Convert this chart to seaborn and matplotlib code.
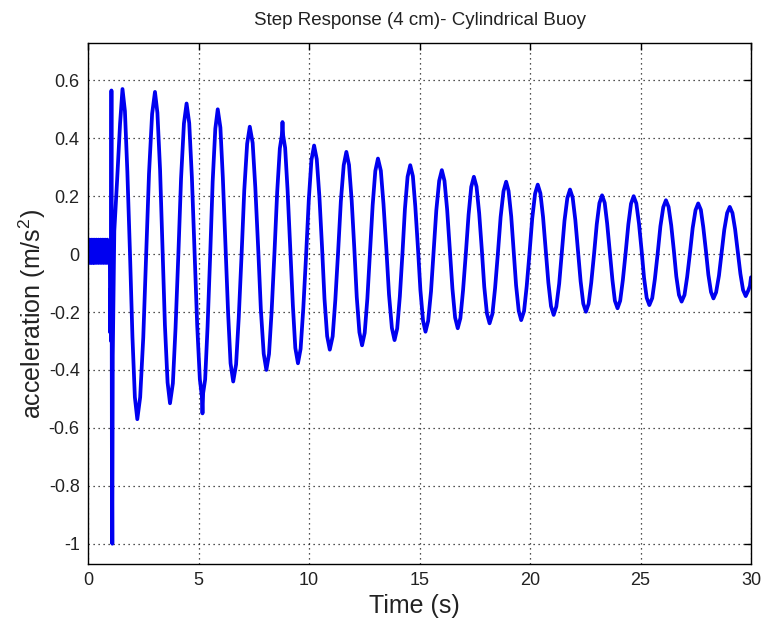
import numpy as np
import pandas as pd
import matplotlib
matplotlib.use("Agg")
import matplotlib.pyplot as plt
import seaborn as sns

# ---- data ----
# pre-trigger sensor noise band (0 - 1 s)
pre_t = [0.0000, 0.0125, 0.0250, 0.0375, 0.0500, 0.0625, 0.0750, 0.0875, 0.1000, 0.1125,
         0.1250, 0.1375, 0.1500, 0.1625, 0.1750, 0.1875, 0.2000, 0.2125, 0.2250, 0.2375,
         0.2500, 0.2625, 0.2750, 0.2875, 0.3000, 0.3125, 0.3250, 0.3375, 0.3500, 0.3625,
         0.3750, 0.3875, 0.4000, 0.4125, 0.4250, 0.4375, 0.4500, 0.4625, 0.4750, 0.4875,
         0.5000, 0.5125, 0.5250, 0.5375, 0.5500, 0.5625, 0.5750, 0.5875, 0.6000, 0.6125,
         0.6250, 0.6375, 0.6500, 0.6625, 0.6750, 0.6875, 0.7000, 0.7125, 0.7250, 0.7375,
         0.7500, 0.7625, 0.7750, 0.7875, 0.8000, 0.8125, 0.8250, 0.8375, 0.8500, 0.8625,
         0.8750, 0.8875, 0.9000, 0.9125, 0.9250, 0.9375, 0.9500, 0.9625, 0.9750, 0.9850]
pre_v = [0.03, -0.02, 0.04, -0.03, 0.02, -0.01, 0.05, -0.02, 0.03, -0.03,
         0.04, -0.01, 0.02, -0.03, 0.05, -0.02, 0.03, -0.01, 0.04, -0.03,
         0.02, -0.02, 0.05, -0.03, 0.03, -0.01, 0.04, -0.02, 0.02, -0.03,
         0.05, -0.01, 0.03, -0.02, 0.04, -0.03, 0.02, -0.01, 0.05, -0.02,
         0.03, -0.03, 0.04, -0.01, 0.02, -0.02, 0.05, -0.03, 0.03, -0.01,
         0.04, -0.02, 0.02, -0.03, 0.05, -0.01, 0.03, -0.02, 0.04, -0.03,
         0.02, -0.01, 0.05, -0.02, 0.03, -0.03, 0.04, -0.01, 0.02, -0.02,
         0.05, -0.03, 0.03, -0.01, 0.04, -0.02, 0.03, -0.03, 0.04, -0.02]

# step trigger transient
trig_t = [0.99, 1.00, 1.02, 1.04, 1.06, 1.08, 1.10, 1.12, 1.19, 1.32, 1.45]
trig_v = [-0.05, -0.27, -0.12, -0.30, 0.565, -0.68, -1.00, -0.35, 0.08, 0.26, 0.45]

# damped oscillation
osc_t = [1.56, 1.67, 1.78, 1.90, 2.01, 2.12,
         2.23, 2.36, 2.50, 2.63, 2.76, 2.90,
         3.03, 3.14, 3.26, 3.37, 3.48, 3.60,
         3.71, 3.84, 3.96, 4.09, 4.21, 4.34,
         4.46, 4.58, 4.70, 4.82, 4.94, 5.06,
         5.15, 5.18, 5.21, 5.30, 5.41, 5.53, 5.64, 5.76,
         5.87, 5.99, 6.10, 6.22, 6.34, 6.45,
         6.57, 6.70, 6.82, 6.95, 7.07, 7.20,
         7.32, 7.45, 7.57, 7.70, 7.82, 7.95,
         8.07, 8.19, 8.31, 8.44, 8.56, 8.68,
         8.77, 8.80, 8.83, 8.92, 9.03, 9.15, 9.27, 9.38,
         9.50, 9.62, 9.74, 9.87, 9.99, 10.11,
         10.23, 10.35, 10.47, 10.59, 10.70, 10.82,
         10.94, 11.07, 11.19, 11.32, 11.44, 11.57,
         11.69, 11.81, 11.93, 12.05, 12.16, 12.28,
         12.40, 12.52, 12.64, 12.76, 12.88, 13.00,
         13.12, 13.25, 13.37, 13.50, 13.62, 13.75,
         13.87, 13.99, 14.11, 14.23, 14.34, 14.46,
         14.58, 14.70, 14.81, 14.93, 15.04, 15.16,
         15.27, 15.39, 15.52, 15.64, 15.76, 15.89,
         16.01, 16.13, 16.25, 16.37, 16.49, 16.61,
         16.73, 16.85, 16.97, 17.10, 17.22, 17.34,
         17.46, 17.58, 17.70, 17.82, 17.93, 18.05,
         18.17, 18.30, 18.42, 18.55, 18.67, 18.80,
         18.92, 19.03, 19.15, 19.26, 19.37, 19.49,
         19.60, 19.73, 19.85, 19.98, 20.10, 20.23,
         20.35, 20.47, 20.59, 20.71, 20.83, 20.95,
         21.07, 21.19, 21.32, 21.44, 21.56, 21.69,
         21.81, 21.93, 22.05, 22.17, 22.29, 22.41,
         22.53, 22.65, 22.77, 22.90, 23.02, 23.14,
         23.26, 23.38, 23.49, 23.61, 23.73, 23.84,
         23.96, 24.08, 24.20, 24.33, 24.45, 24.57,
         24.69, 24.81, 24.93, 25.05, 25.16, 25.28,
         25.40, 25.53, 25.65, 25.78, 25.90, 26.03,
         26.15, 26.27, 26.39, 26.51, 26.62, 26.74,
         26.86, 26.99, 27.11, 27.24, 27.36, 27.49,
         27.61, 27.73, 27.84, 27.96, 28.07, 28.19,
         28.30, 28.42, 28.55, 28.67, 28.79, 28.92,
         29.04, 29.16, 29.28, 29.40, 29.52, 29.64,
         29.76, 29.88, 29.95, 30.00]
osc_v = [0.570, 0.494, 0.285, 0.000, -0.285, -0.494,
         -0.570, -0.494, -0.288, -0.005, 0.278, 0.484,
         0.560, 0.488, 0.292, 0.023, -0.246, -0.443,
         -0.515, -0.446, -0.256, 0.003, 0.261, 0.451,
         0.520, 0.452, 0.265, 0.010, -0.245, -0.432,
         -0.490, -0.550, -0.480, -0.433, -0.250, 0.000, 0.250, 0.433,
         0.500, 0.437, 0.265, 0.030, -0.205, -0.377,
         -0.440, -0.381, -0.220, 0.000, 0.220, 0.381,
         0.440, 0.384, 0.230, 0.020, -0.190, -0.344,
         -0.400, -0.345, -0.195, 0.010, 0.215, 0.365,
         0.410, 0.456, 0.410, 0.367, 0.221, 0.022, -0.178, -0.324,
         -0.377, -0.327, -0.189, -0.001, 0.187, 0.325,
         0.375, 0.328, 0.199, 0.023, -0.154, -0.283,
         -0.330, -0.284, -0.159, 0.012, 0.182, 0.307,
         0.353, 0.308, 0.186, 0.019, -0.148, -0.270,
         -0.315, -0.272, -0.154, 0.008, 0.169, 0.287,
         0.330, 0.288, 0.173, 0.017, -0.140, -0.255,
         -0.297, -0.257, -0.146, 0.005, 0.156, 0.267,
         0.307, 0.269, 0.164, 0.020, -0.124, -0.230,
         -0.268, -0.231, -0.129, 0.011, 0.151, 0.253,
         0.290, 0.253, 0.154, 0.017, -0.120, -0.219,
         -0.256, -0.221, -0.125, 0.006, 0.136, 0.232,
         0.267, 0.233, 0.141, 0.014, -0.113, -0.205,
         -0.239, -0.206, -0.117, 0.006, 0.128, 0.217,
         0.250, 0.218, 0.130, 0.011, -0.108, -0.196,
         -0.228, -0.197, -0.111, 0.006, 0.123, 0.209,
         0.240, 0.210, 0.128, 0.015, -0.098, -0.180,
         -0.210, -0.181, -0.102, 0.007, 0.115, 0.194,
         0.223, 0.195, 0.118, 0.012, -0.094, -0.171,
         -0.199, -0.172, -0.099, 0.002, 0.103, 0.176,
         0.203, 0.177, 0.106, 0.008, -0.090, -0.161,
         -0.187, -0.161, -0.090, 0.007, 0.103, 0.174,
         0.200, 0.175, 0.106, 0.012, -0.082, -0.151,
         -0.176, -0.152, -0.086, 0.005, 0.096, 0.162,
         0.186, 0.163, 0.099, 0.011, -0.077, -0.141,
         -0.164, -0.141, -0.079, 0.006, 0.090, 0.152,
         0.175, 0.153, 0.093, 0.011, -0.071, -0.131,
         -0.153, -0.132, -0.074, 0.005, 0.084, 0.142,
         0.163, 0.142, 0.086, 0.009, -0.068, -0.124,
         -0.145, -0.125, -0.110, -0.080]

x_ticks = [0, 5, 10, 15, 20, 25, 30]
y_ticks = [-1.0, -0.8, -0.6, -0.4, -0.2, 0.0, 0.2, 0.4, 0.6]
y_tick_labels = ["-1", "-0.8", "-0.6", "-0.4", "-0.2", "0", "0.2", "0.4", "0.6"]

df = pd.DataFrame({
    "Time (s)": pre_t + trig_t + osc_t,
    "acc": pre_v + trig_v + osc_v,
})

# ---- styling ----
sns.set_style("white")
plt.rcParams["font.family"] = ["Liberation Sans", "DejaVu Sans"]
plt.rcParams["mathtext.fontset"] = "custom"
plt.rcParams["mathtext.rm"] = "Liberation Sans"
plt.rcParams["mathtext.it"] = "Liberation Sans"

fig = plt.figure(figsize=(7.64, 6.25), dpi=100)
ax = fig.add_axes([0.1152, 0.0976, 0.983 - 0.1152, 0.9317 - 0.0976])

sns.lineplot(data=df, x="Time (s)", y="acc", ax=ax, sort=False, estimator=None,
             color="#0000f0", linewidth=2.7)

ax.set_xlim(0, 30)
ax.set_ylim(-1.07, 0.73)
ax.set_xticks(x_ticks)
ax.set_xticklabels([str(v) for v in x_ticks])
ax.set_yticks(y_ticks)
ax.set_yticklabels(y_tick_labels)

ax.grid(True, color="black", linestyle=(0, (1, 3)), linewidth=0.9, alpha=0.9)
for s in ax.spines.values():
    s.set_visible(True)
    s.set_color("black")
    s.set_linewidth(1.0)

ax.tick_params(axis="both", direction="in", length=5, width=1, colors="black",
               labelsize=13, top=True, right=True, pad=6)
for lab in ax.get_xticklabels() + ax.get_yticklabels():
    lab.set_color("#222222")

ax.set_xlabel("Time (s)", fontsize=18, color="#222222")
ax.xaxis.set_label_coords(0.493, -0.058)
ax.set_ylabel("acceleration (m/s$^2$)", fontsize=18, color="#222222")
ax.yaxis.set_label_coords(-0.06, 0.48)
ax.set_title("Step Response (4 cm)- Cylindrical Buoy", fontsize=13.5, color="#222222", pad=13)

fig.savefig("out.png", dpi=100, facecolor="white")
